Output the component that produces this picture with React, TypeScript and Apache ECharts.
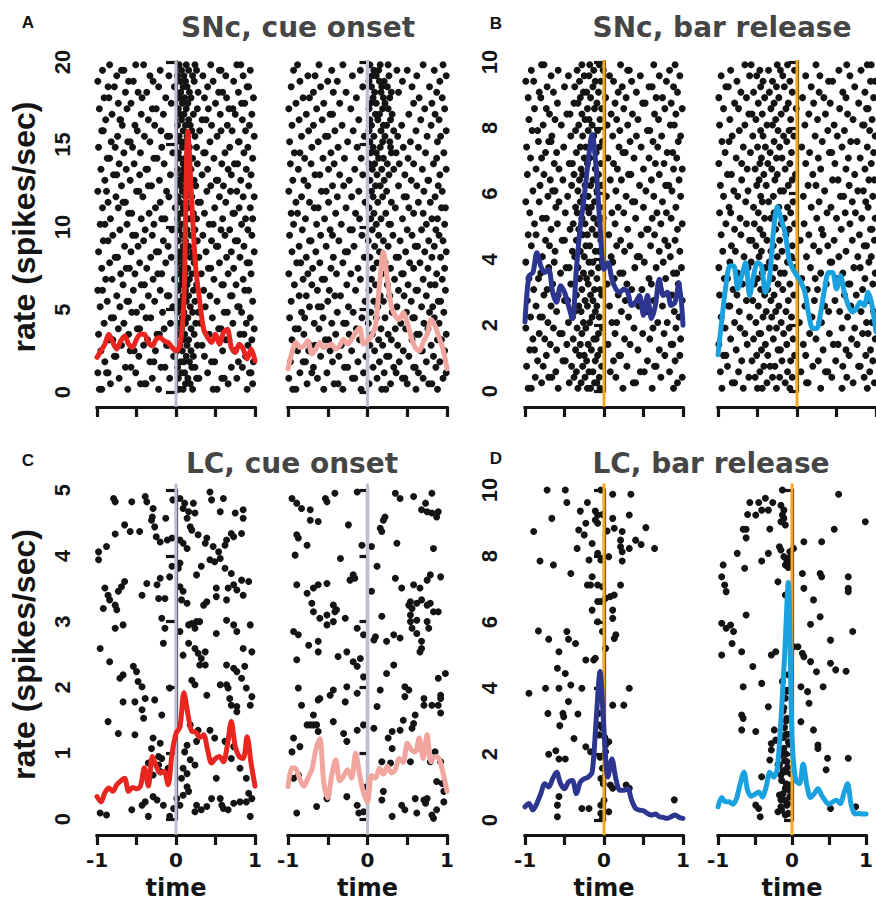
import React, { useEffect, useRef } from "react";
import * as echarts from "echarts";

// ---------- time bins for the rate curves (s) ----------
const timeBins = [
  -1, -0.95, -0.9, -0.85, -0.8, -0.75, -0.7, -0.65, -0.6, -0.55, -0.5, -0.45, -0.4, -0.35, -0.3, -0.25, -0.2, -0.15, -0.1, -0.05,
  0, 0.05, 0.1, 0.15, 0.2, 0.25, 0.3, 0.35, 0.4, 0.45, 0.5, 0.55, 0.6, 0.65, 0.7, 0.75, 0.8, 0.85, 0.9, 0.95, 1,
];
const xTickValues = [-1, -0.5, 0, 0.5, 1];
const xTickLabels = ["-1", "", "0", "", "1"];

// ---------- rate curves (spikes/sec) ----------
const rateSNcCueA = [2.1, 2.5, 2.9, 3.5, 3.0, 2.6, 3.1, 3.4, 2.9, 2.7, 3.2, 3.5, 3.5, 3.0, 2.8, 3.2, 3.3, 3.1, 3.0, 2.7, 2.5, 2.8, 5.5, 15.8, 11.5, 7.5, 5.5, 3.8, 3.3, 3.0, 3.5, 2.9, 3.6, 3.8, 2.7, 2.4, 2.9, 2.6, 2.0, 2.6, 1.9];
const rateSNcCueB = [1.4, 2.4, 3.0, 2.7, 2.8, 3.1, 2.3, 2.6, 3.0, 2.7, 2.8, 2.9, 2.6, 2.8, 3.2, 2.9, 3.2, 3.6, 3.9, 2.9, 3.1, 3.4, 4.0, 6.5, 8.5, 6.8, 5.2, 4.6, 4.4, 4.8, 4.2, 3.3, 2.7, 2.5, 3.0, 3.5, 4.4, 4.0, 3.3, 2.6, 1.4];
const rateSNcBarA = [2.1, 3.5, 3.6, 4.2, 3.8, 3.6, 3.7, 3.0, 2.7, 3.2, 3.0, 2.6, 2.2, 3.7, 5.0, 5.9, 7.0, 7.8, 6.8, 5.0, 3.7, 3.9, 3.4, 3.1, 3.0, 3.1, 3.0, 2.6, 2.7, 2.9, 2.3, 2.9, 2.2, 2.6, 3.4, 2.9, 3.0, 2.6, 2.7, 3.3, 2.0];
const rateSNcBarB = [1.1, 2.2, 3.2, 3.8, 3.8, 3.1, 3.5, 3.9, 2.9, 3.5, 3.9, 3.8, 3.0, 3.4, 4.8, 5.6, 5.2, 4.8, 4.0, 3.7, 3.5, 3.3, 3.0, 2.3, 1.9, 1.9, 2.4, 3.1, 3.6, 3.6, 3.1, 3.5, 3.0, 2.6, 2.4, 2.5, 2.7, 2.6, 3.0, 2.6, 1.8];
const rateLCCueA = [0.34, 0.26, 0.4, 0.47, 0.42, 0.52, 0.58, 0.62, 0.42, 0.48, 0.46, 0.5, 0.78, 0.5, 0.95, 0.8, 0.7, 0.72, 0.52, 1.0, 1.3, 1.4, 1.92, 1.6, 1.33, 1.32, 1.24, 1.28, 1.05, 0.85, 0.92, 0.95, 0.87, 1.12, 1.48, 1.1, 0.95, 0.92, 1.25, 0.85, 0.5];
const rateLCCueB = [0.49, 0.78, 0.76, 0.6, 0.5, 0.62, 0.75, 1.05, 1.22, 0.55, 0.32, 0.67, 0.9, 0.58, 0.65, 0.75, 0.62, 1.0, 0.68, 0.4, 0.26, 0.66, 0.62, 0.77, 0.68, 0.8, 0.7, 0.75, 0.92, 0.86, 1.15, 1.05, 1.02, 1.23, 0.92, 1.28, 0.87, 0.95, 0.92, 0.7, 0.42];
const rateLCBarA = [0.4, 0.5, 0.3, 0.5, 0.8, 1.1, 1.0, 1.25, 1.45, 1.1, 0.95, 1.15, 1.2, 0.8, 1.15, 1.25, 1.3, 1.45, 3.0, 4.5, 2.7, 1.3, 1.85, 1.25, 0.9, 0.9, 0.95, 0.6, 0.35, 0.3, 0.28, 0.2, 0.15, 0.18, 0.1, 0.08, 0.05, 0.1, 0.15, 0.08, 0.05];
const rateLCBarB = [0.4, 0.68, 0.55, 0.55, 0.48, 0.65, 1.1, 1.45, 0.9, 0.72, 0.78, 0.85, 0.7, 1.0, 1.45, 1.3, 1.55, 3.0, 5.0, 7.2, 2.5, 1.2, 1.1, 1.7, 1.05, 0.68, 0.8, 0.95, 0.75, 0.58, 0.48, 0.55, 0.6, 0.5, 0.8, 1.1, 0.45, 0.18, 0.2, 0.18, 0.18];

// ---------- rasters: one row per trial (bottom to top), spike times in 1/100 s ----------
const rasterSNcCueA = [
  [-97, -94, -61, -22, 4, 9, 21, 47, 52, 90], [-83, -45, -40, -38, 12, 18, 66, 97], [-72, -30, -8, 3, 15, 26, 29, 58, 61, 77],
  [-99, -88, -86, -51, 7, 11, 40, 93, 95], [-64, -57, -19, -14, 2, 20, 24, 70, 84], [-90, -33, -28, 6, 10, 17, 45, 49, 79, 98],
  [-78, -76, -47, -3, 13, 22, 36, 88], [-95, -58, -53, -26, 1, 8, 19, 59, 74, 75], [-69, -41, -12, -10, 5, 14, 27, 33, 91],
  [-85, -80, -36, 9, 16, 63, 67, 96], [-98, -60, -24, -21, 3, 11, 23, 42, 81, 86], [-73, -49, -46, -15, 7, 19, 54, 57, 99],
  [-91, -66, -7, 4, 12, 25, 31, 72, 89], [-82, -79, -38, -32, 8, 15, 46, 94], [-56, -50, -17, 2, 10, 21, 28, 61, 65, 83],
  [-96, -71, -43, -4, 6, 18, 37, 78, 80], [-87, -62, -60, -27, 5, 13, 24, 52, 97], [-75, -35, -11, -9, 9, 16, 43, 69, 71],
  [-99, -93, -54, -20, 3, 12, 22, 35, 87, 92], [-67, -44, -40, 6, 14, 26, 58, 60, 76], [-89, -81, -29, -2, 8, 17, 48, 85],
  [-70, -52, -23, -18, 4, 11, 20, 32, 66, 95], [-94, -63, -59, -37, 7, 15, 41, 44, 73], [-84, -46, -13, 2, 10, 23, 55, 90, 93],
  [-77, -74, -32, -6, 6, 18, 29, 64, 81], [-98, -57, -25, -22, 5, 13, 21, 38, 70, 99], [-65, -48, -10, 9, 16, 51, 53, 86],
  [-92, -86, -41, -16, 3, 12, 27, 45, 75, 78], [-80, -55, -51, -30, 8, 19, 34, 62, 96], [-71, -39, -5, 4, 14, 24, 57, 68, 91],
  [-96, -90, -62, -28, 7, 11, 42, 47, 83], [-83, -44, -18, -14, 2, 17, 26, 59, 88, 97], [-60, -56, -34, 6, 10, 22, 36, 72, 74],
  [-93, -73, -26, -1, 9, 15, 49, 80, 94], [-86, -67, -64, -20, 5, 13, 28, 31, 63], [-76, -42, -9, 3, 12, 20, 55, 85, 99],
  [-99, -88, -50, -47, -12, 8, 16, 39, 69, 77], [-69, -35, -31, 6, 18, 25, 44, 60, 92], [-90, -58, -21, 4, 11, 23, 51, 53, 82],
  [-79, -75, -46, -7, 7, 14, 33, 70, 95], [-95, -63, -38, -36, 2, 10, 19, 40, 66, 89], [-72, -53, -15, 9, 16, 27, 58, 74, 78],
  [-87, -84, -28, -24, 5, 12, 21, 48, 97], [-66, -45, -4, 3, 15, 35, 37, 62, 86], [-98, -77, -55, -18, 8, 17, 26, 68, 91],
  [-82, -61, -58, -33, 6, 11, 43, 79, 80], [-74, -40, -11, -8, 4, 14, 24, 52, 99], [-94, -92, -49, -19, 9, 20, 30, 57, 71, 88],
  [-68, -52, -27, 2, 12, 18, 45, 65, 93], [-89, -71, -70, -35, 7, 16, 33, 38, 84], [-81, -44, -16, 5, 10, 22, 56, 75, 96],
  [-97, -62, -30, -25, 3, 13, 27, 41, 67, 72], [-73, -57, -6, 8, 15, 50, 83, 87], [-91, -85, -43, -13, 4, 11, 19, 36, 64, 98],
  [-64, -48, -37, 6, 17, 28, 54, 59, 79], [-86, -78, -22, -2, 9, 14, 40, 90, 92], [-99, -60, -54, -29, 5, 12, 23, 47, 73],
  [-75, -33, -9, 2, 10, 21, 34, 63, 85], [-93, -69, -66, -20, 7, 16, 26, 55, 57, 94], [-84, -51, -41, 4, 13, 24, 44, 77, 82],
];
const rasterSNcCueB = [
  [-94, -90, -55, -31, -8, 18, 23, 61, 88], [-76, -42, -37, 2, 29, 50, 77, 81], [-99, -63, -19, -16, 12, 44, 47, 70, 95],
  [-85, -70, -51, -5, 21, 36, 64, 99], [-68, -29, -25, 7, 33, 58, 60, 86], [-97, -81, -78, -44, -12, 15, 40, 74, 91],
  [-59, -36, -2, 24, 27, 52, 83], [-88, -74, -47, -20, 9, 45, 67, 69, 97], [-72, -66, -33, 3, 19, 38, 80],
  [-95, -53, -49, -10, 14, 30, 56, 88, 93], [-80, -40, -23, 6, 26, 62, 65, 99], [-91, -87, -61, -14, 17, 35, 48, 76],
  [-67, -45, -30, -27, 1, 42, 71, 90], [-98, -79, -56, -7, 11, 22, 57, 59, 84], [-83, -38, -18, 4, 31, 49, 78, 96],
  [-73, -62, -58, -24, 13, 37, 68, 82], [-96, -50, -3, 8, 20, 55, 89, 92], [-86, -77, -41, -34, 16, 28, 46, 74],
  [-63, -48, -15, 2, 39, 61, 63, 98], [-92, -70, -26, 10, 25, 51, 79, 85], [-81, -57, -54, -9, 5, 34, 70, 94],
  [-99, -75, -39, -21, 18, 43, 45, 87], [-69, -46, -12, 7, 29, 58, 76, 97], [-89, -84, -60, -31, 12, 22, 53, 66],
  [-77, -43, -4, 3, 36, 39, 81, 92], [-95, -65, -28, -25, 15, 48, 72, 99], [-86, -52, -17, 9, 26, 60, 63, 84],
  [-73, -71, -36, 1, 20, 41, 77, 95], [-98, -59, -44, -7, 14, 32, 56, 90], [-82, -47, -22, -19, 6, 50, 68, 86],
  [-93, -64, -33, 11, 27, 29, 74, 97], [-78, -54, -10, 4, 17, 44, 81, 88], [-96, -88, -40, -15, 8, 23, 58, 70],
  [-67, -62, -27, 2, 35, 52, 93, 98], [-90, -73, -49, -3, 13, 30, 64, 79], [-83, -38, -20, 7, 19, 46, 49, 85],
  [-99, -58, -52, -11, 5, 24, 71, 94], [-75, -44, -30, 10, 16, 39, 62, 89], [-94, -80, -23, 3, 21, 55, 76, 77],
  [-66, -60, -35, -6, 12, 27, 47, 91], [-87, -49, -16, 6, 18, 33, 69, 99], [-97, -71, -42, 2, 9, 25, 40, 58, 83],
  [-79, -56, -29, -8, 14, 20, 51, 87], [-92, -85, -46, 4, 11, 30, 36, 73, 96], [-70, -37, -13, 7, 16, 29, 45, 64],
  [-98, -62, -25, 3, 19, 28, 54, 88], [-83, -53, -50, -4, 8, 22, 38, 75, 92], [-74, -41, -18, 2, 17, 33, 61, 99],
  [-95, -68, -32, 5, 20, 24, 43, 80], [-86, -57, -11, 3, 13, 29, 67, 90], [-77, -47, -44, 10, 15, 31, 52, 85],
  [-99, -64, -21, 2, 19, 26, 72, 97], [-90, -55, -35, 4, 11, 22, 58, 81], [-81, -73, -14, 7, 20, 28, 65, 94],
  [-68, -43, -27, 9, 17, 30, 39, 87], [-96, -59, -6, 5, 18, 25, 56, 78], [-85, -50, -38, 2, 15, 21, 44, 91],
  [-75, -66, -19, 6, 11, 27, 62, 99], [-93, -45, -9, 8, 14, 37, 50, 84], [-88, -61, -31, 3, 16, 26, 70, 95],
];
const rasterSNcBarA = [
  [-96, -92, -58, -33, -21, -17, -5, 24, 61, 88], [-79, -44, -29, -12, -9, 37, 40, 93], [-87, -70, -66, -38, -24, -6, 15, 72, 99],
  [-61, -35, -19, -14, 8, 46, 51, 83], [-98, -77, -41, -27, -3, 29, 64, 66], [-84, -52, -49, -22, -11, 12, 55, 90],
  [-73, -31, -25, -8, 19, 21, 77, 96], [-94, -88, -60, -36, -16, -4, 43, 70], [-68, -47, -30, -20, 5, 33, 85, 87],
  [-90, -75, -39, -13, -10, 26, 58, 97], [-82, -56, -53, -28, -7, 14, 49, 76], [-99, -64, -34, -23, -2, 38, 62, 91],
  [-71, -45, -26, -18, 10, 16, 68, 80], [-93, -81, -78, -40, -15, -6, 31, 95], [-60, -37, -29, -11, 22, 53, 56, 89],
  [-86, -67, -32, -21, -9, 7, 44, 74], [-97, -50, -46, -24, -14, 27, 63, 99], [-76, -58, -35, -17, -3, 18, 83, 86],
  [-89, -72, -28, -12, -5, 35, 48, 71], [-65, -42, -38, -20, 4, 29, 60, 94], [-95, -83, -31, -22, -9, 13, 57, 78],
  [-80, -55, -26, -16, 20, 24, 88, 92], [-70, -48, -44, -33, -7, 39, 66, 98], [-99, -63, -19, -14, -2, 11, 51, 75],
  [-85, -78, -37, -25, 9, 42, 45, 84], [-62, -40, -30, -11, -6, 26, 70, 96], [-92, -69, -23, -18, 16, 33, 59, 81],
  [-74, -53, -50, -35, -4, 21, 77, 90], [-96, -86, -27, -21, -10, 6, 47, 64], [-67, -43, -32, -15, 30, 54, 56, 93],
  [-88, -59, -39, -24, -8, 14, 72, 99], [-78, -73, -28, -13, -1, 40, 61, 85], [-94, -49, -34, -19, 10, 25, 67, 79],
  [-61, -36, -22, -16, -5, 18, 50, 91], [-99, -82, -57, -30, -12, 36, 39, 74], [-71, -46, -26, -20, 3, 28, 63, 97],
  [-90, -65, -62, -33, -9, 15, 53, 86], [-81, -41, -24, -17, -3, 45, 78, 82], [-68, -52, -31, -14, 8, 22, 60, 95],
  [-97, -76, -38, -27, -7, 31, 34, 70], [-86, -57, -29, -11, 17, 50, 88, 99], [-63, -44, -40, -21, -4, 12, 65, 76],
  [-93, -79, -25, -18, 5, 38, 57, 92], [-74, -60, -35, -10, 24, 27, 80, 87], [-98, -51, -30, -23, -6, 19, 47, 68],
  [-83, -70, -67, -16, -2, 33, 62, 94], [-66, -42, -27, -13, 11, 41, 73, 97], [-91, -84, -36, -20, -8, 20, 55, 58],
  [-77, -54, -32, -15, 4, 30, 84, 89], [-95, -62, -24, -19, -5, 16, 43, 69], [-69, -47, -43, -28, 9, 36, 64, 91],
  [-88, -73, -21, -12, -3, 25, 77, 99], [-59, -38, -33, -9, 14, 49, 52, 85], [-96, -80, -30, -17, 2, 28, 66, 74],
  [-82, -64, -26, -22, -7, 18, 41, 93], [-72, -50, -37, -14, 23, 57, 61, 88], [-99, -89, -31, -11, -4, 12, 35, 79],
  [-67, -45, -25, -19, 7, 46, 70, 96], [-92, -58, -34, -13, -1, 30, 32, 83], [-79, -76, -28, -18, -6, 21, 63, 90],
];
const rasterSNcBarB = [
  [-95, -68, -50, -44, -26, -9, 30, 57, 89], [-82, -79, -38, -15, 12, 14, 71, 98], [-61, -53, -31, -22, -6, 44, 63, 85],
  [-97, -74, -47, -12, 5, 36, 39, 92], [-88, -42, -34, -28, 20, 58, 78, 80], [-70, -57, -19, -8, 27, 49, 96],
  [-93, -90, -51, -37, -3, 11, 66, 87], [-77, -45, -24, -21, 33, 62, 93], [-99, -63, -40, -13, 8, 46, 52, 76],
  [-84, -55, -30, -5, 24, 69, 99], [-66, -48, -46, -17, 16, 41, 83, 90], [-91, -72, -35, -26, -10, 57, 73],
  [-79, -52, -20, 3, 29, 31, 88, 95], [-96, -60, -43, -32, -7, 19, 64], [-73, -39, -27, -14, 40, 54, 81, 97],
  [-87, -85, -49, -23, 10, 35, 68], [-64, -56, -33, -11, 22, 48, 90, 92], [-98, -76, -41, -29, -4, 60, 75],
  [-81, -46, -37, -18, 13, 26, 83], [-69, -54, -24, -9, 37, 65, 67, 96], [-92, -88, -50, -31, 6, 23, 49, 86],
  [-75, -44, -21, -16, 30, 58, 99], [-99, -62, -40, -28, -2, 17, 72, 80], [-85, -58, -35, -12, 42, 44, 91],
  [-67, -48, -25, -7, 12, 53, 77, 94], [-94, -78, -45, -33, -19, 28, 62], [-83, -52, -30, -6, 21, 39, 85, 88],
  [-60, -57, -38, -22, 4, 47, 70, 98], [-96, -71, -43, -14, 15, 33, 79], [-79, -47, -27, -10, 31, 56, 93, 95],
  [-90, -64, -54, -20, -3, 9, 67], [-72, -41, -33, -16, 25, 50, 82, 99], [-98, -84, -49, -29, -8, 38, 61, 74],
  [-86, -55, -23, -12, 18, 43, 90], [-65, -44, -36, -5, 28, 70, 87], [-93, -75, -46, -30, 8, 55, 59, 96],
  [-80, -62, -21, -17, 35, 77, 84], [-97, -51, -39, -11, 14, 24, 66], [-70, -48, -28, -6, 45, 52, 91, 98],
  [-88, -83, -42, -25, -2, 20, 73], [-63, -53, -32, -15, 30, 62, 86], [-99, -70, -47, -37, -9, 11, 48, 94],
  [-77, -45, -26, -19, 27, 65, 80], [-91, -59, -34, -7, 16, 41, 44, 97], [-68, -50, -40, -22, 6, 57, 89],
  [-95, -86, -29, -13, 32, 68, 76], [-82, -56, -43, -17, -4, 23, 51, 99], [-73, -46, -24, -10, 39, 60, 92],
  [-98, -66, -38, -31, 10, 47, 83, 85], [-85, -52, -27, -8, 26, 71, 95], [-61, -57, -44, -20, 15, 36, 64],
  [-93, -74, -33, -14, -1, 54, 88, 90], [-79, -49, -29, -11, 21, 42, 78], [-99, -64, -41, -23, 7, 34, 62, 97],
  [-71, -55, -35, -6, 28, 58, 86], [-90, -87, -46, -26, -16, 18, 73], [-76, -43, -31, -9, 40, 45, 93, 99],
  [-96, -60, -51, -18, 11, 29, 67], [-84, -47, -36, -21, -3, 53, 81], [-66, -58, -25, -12, 24, 63, 89, 94],
];

// ---------- sparse rasters: [spike time in 1/100 s, row position in 1/100 rate units] ----------
const rasterLCCueA = [
  [-79, 487], [-77, 482], [-56, 482], [-39, 490], [-37, 482], [-29, 472], [-30, 459], [-31, 454], [-65, 447], [-77, 433], [-58, 437], [-46, 437],
  [-27, 444], [-25, 429], [-20, 421], [-11, 424], [-13, 457], [-4, 485], [-5, 427], [-98, 406], [-88, 414], [-98, 394], [5, 487], [11, 480],
  [9, 472], [16, 467], [14, 457], [22, 480], [24, 465], [18, 444], [20, 439], [28, 432], [43, 497], [45, 485], [60, 487], [56, 467], [75, 465],
  [85, 470], [85, 457], [39, 427], [37, 419], [47, 414], [54, 406], [62, 416], [64, 424], [70, 434], [73, 429], [83, 434], [5, 424], [9, 419],
  [14, 411], [5, 389], [3, 381], [-5, 384], [-8, 368], [-20, 366], [-24, 356], [-37, 358], [-65, 361], [-69, 353], [-73, 346], [-86, 340],
  [-84, 333], [-92, 320], [-77, 325], [-75, 318], [-90, 351], [-43, 340], [-22, 335], [-14, 335], [5, 353], [9, 346], [7, 333], [14, 328],
  [26, 371], [32, 384], [43, 394], [49, 391], [56, 396], [62, 381], [70, 373], [73, 356], [66, 351], [77, 348], [83, 363], [92, 361], [85, 340],
  [64, 333], [39, 330], [35, 325], [51, 351], [51, 338], [-18, 305], [-14, 290], [-16, 267], [-67, 295], [-77, 290], [-96, 259], [-84, 239],
  [-71, 214], [-67, 219], [-54, 232], [-50, 224], [-48, 209], [-43, 201], [-8, 199], [5, 285], [16, 267], [20, 297], [26, 300], [24, 290],
  [30, 300], [24, 259], [28, 252], [32, 244], [37, 234], [30, 234], [37, 254], [9, 249], [16, 295], [51, 282], [64, 302], [73, 295], [77, 285],
  [94, 295], [85, 259], [96, 254], [64, 234], [73, 229], [77, 224], [83, 214], [87, 232], [56, 204], [64, 204], [66, 199], [68, 183], [70, 173],
  [77, 171], [77, 163], [89, 199], [96, 186], [94, 173], [39, 188], [24, 204], [20, 211], [-67, 178], [-52, 178], [-39, 183], [-43, 166],
  [-18, 158], [-27, 181], [-41, 153], [-86, 148], [-73, 130], [-52, 128], [-29, 123], [-31, 107], [-20, 115], [-18, 92], [-31, 87], [-35, 85],
  [-22, 82], [-20, 72], [-29, 67], [-10, 77], [-96, 9], [-88, 6], [-56, 14], [-43, 21], [-39, 26], [-35, 4], [-29, 34], [-24, 29], [-16, 21],
  [1, 31], [5, 21], [9, 36], [7, 62], [14, 49], [16, 42], [14, 69], [9, 77], [18, 90], [24, 82], [11, 102], [14, 112], [18, 143], [28, 135],
  [26, 118], [43, 135], [49, 123], [62, 118], [73, 110], [70, 92], [51, 62], [56, 31], [58, 21], [60, 16], [66, 14], [73, 24], [81, 26], [89, 26],
  [92, 39], [94, 4], [96, 31], [89, 62], [81, 77], [26, 21], [32, 14], [39, 19], [45, 31], [24, 11], [-3, 16], [-8, 4], [-22, 95],
];
const rasterLCCueB = [
  [-95, 487], [-89, 480], [-83, 472], [-72, 470], [-72, 454], [-62, 452], [-53, 487], [-51, 482], [-41, 495], [-24, 447], [-13, 497], [-7, 416],
  [-89, 432], [-87, 427], [-76, 416], [-91, 401], [-34, 396], [-18, 371], [-16, 366], [-22, 363], [-89, 356], [-76, 343], [-68, 351], [-62, 356],
  [-51, 358], [-43, 325], [-39, 318], [-41, 315], [-70, 328], [-68, 315], [-60, 305], [-51, 310], [-43, 300], [-28, 305], [-13, 290], [-5, 280],
  [-93, 285], [-87, 280], [-74, 264], [-62, 270], [-62, 254], [-51, 295], [-37, 247], [-26, 254], [-18, 239], [-9, 244], [-13, 232], [-5, 216],
  [-89, 242], [-87, 199], [-83, 173], [-68, 158], [-76, 143], [-72, 143], [-68, 143], [-64, 143], [-62, 133], [-62, 181], [-60, 183], [-47, 188],
  [-43, 196], [-26, 201], [-13, 191], [-28, 178], [-43, 148], [-30, 130], [-26, 118], [-13, 135], [-5, 143], [-93, 123], [-85, 110], [-95, 102],
  [-87, 67], [-93, 62], [-89, 9], [-64, 19], [-51, 31], [-26, 34], [-13, 21], [-11, 9], [-5, 11], [-1, 49], [5, 414], [12, 384], [16, 442],
  [20, 454], [18, 437], [22, 459], [35, 495], [41, 487], [37, 419], [58, 490], [73, 480], [81, 495], [83, 411], [68, 470], [75, 467], [81, 465],
  [89, 467], [87, 459], [92, 368], [79, 371], [75, 363], [66, 351], [58, 356], [54, 330], [52, 325], [56, 320], [62, 328], [68, 333], [75, 325],
  [79, 328], [83, 315], [89, 315], [54, 310], [54, 300], [62, 302], [75, 300], [77, 290], [56, 290], [62, 282], [68, 270], [41, 275], [33, 280],
  [24, 270], [18, 308], [35, 366], [43, 351], [5, 346], [10, 277], [8, 272], [12, 171], [16, 196], [24, 221], [33, 234], [47, 201], [52, 196],
  [47, 186], [66, 254], [68, 259], [89, 214], [98, 221], [92, 188], [92, 183], [89, 173], [92, 161], [81, 173], [71, 173], [60, 158], [71, 183],
  [45, 150], [41, 135], [58, 145], [56, 138], [8, 138], [31, 133], [26, 123], [31, 107], [18, 87], [29, 85], [54, 87], [68, 107], [79, 87],
  [85, 102], [92, 87], [87, 57], [94, 54], [96, 42], [96, 26], [75, 31], [71, 29], [73, 24], [60, 31], [43, 21], [47, 14], [31, 4], [20, 42],
  [18, 29], [81, 6], [83, 1], [87, 14], [62, 9],
];
const rasterLCBarA = [
  [-72, 1000], [-49, 1000], [-4, 1000], [11, 987], [34, 987], [-47, 962], [-21, 962], [-30, 936], [-11, 936], [-8, 924], [-2, 926], [-66, 914],
  [-89, 874], [-23, 899], [-11, 909], [-8, 899], [11, 914], [32, 924], [23, 874], [21, 848], [40, 848], [47, 835], [53, 886], [64, 823],
  [-32, 879], [-25, 864], [-34, 823], [4, 876], [13, 884], [21, 828], [-15, 838], [32, 823], [23, 813], [23, 785], [6, 798], [-8, 808],
  [-4, 788], [-19, 788], [-81, 785], [-64, 773], [-42, 747], [-15, 737], [-8, 712], [-17, 712], [-21, 712], [-2, 707], [21, 712], [13, 682],
  [2, 672], [-4, 662], [-8, 662], [8, 677], [-15, 636], [-8, 601], [11, 636], [11, 611], [-2, 571], [15, 561], [13, 550], [2, 520], [-83, 573],
  [-70, 548], [-45, 548], [-47, 571], [-36, 535], [-57, 510], [-23, 485], [-13, 485], [-11, 490], [32, 399], [-74, 399], [-57, 399], [-42, 409],
  [-28, 399], [-95, 384], [-59, 460], [-49, 444], [-45, 359], [-71, 323], [-52, 323], [-51, 313], [-33, 321], [-56, 286], [-38, 247], [-7, 323],
  [11, 348], [25, 348], [-6, 288], [-6, 258], [-23, 222], [-17, 207], [2, 227], [2, 207], [6, 237], [-70, 199], [-61, 210], [-57, 185],
  [-49, 185], [-2, 157], [-4, 126], [2, 136], [6, 167], [8, 106], [11, 96], [28, 106], [32, 96], [-57, 71], [-59, 45], [-28, 35], [-19, 35],
  [-59, 10], [-4, 20], [-2, 5], [-4, 45], [6, 25], [89, 61], [-3, 280], [1, 250], [-5, 190], [0, 60], [-1, 110], [3, 150],
];
const rasterLCBarB = [
  [-13, 1000], [63, 987], [99, 904], [-57, 962], [-45, 962], [-36, 975], [-26, 962], [-41, 939], [-32, 939], [-60, 926], [-49, 924], [-15, 954],
  [-11, 939], [-13, 924], [-11, 914], [-15, 904], [-9, 894], [-66, 881], [-62, 881], [-62, 855], [-30, 882], [-74, 808], [-41, 785], [-64, 763],
  [-93, 773], [-95, 737], [-91, 712], [-89, 692], [-32, 808], [-17, 828], [-15, 818], [-11, 798], [-7, 788], [-9, 773], [-5, 778], [-19, 722],
  [-9, 682], [14, 747], [38, 747], [40, 737], [76, 737], [76, 702], [76, 692], [16, 702], [29, 667], [38, 616], [25, 593], [57, 881], [40, 843],
  [16, 843], [2, 823], [-3, 813], [-3, 788], [-5, 765], [-62, 621], [-95, 596], [-89, 581], [-83, 591], [-79, 571], [-81, 535], [-95, 500],
  [-68, 510], [-53, 465], [-28, 500], [-22, 510], [2, 525], [8, 525], [14, 505], [16, 495], [52, 545], [82, 571], [52, 475], [59, 455], [73, 451],
  [25, 480], [33, 449], [42, 404], [12, 404], [21, 389], [23, 354], [-41, 414], [-66, 404], [-32, 343], [-68, 318], [-66, 308], [-68, 273],
  [-49, 268], [12, 298], [29, 273], [35, 227], [35, 217], [48, 187], [76, 187], [46, 152], [-24, 273], [-28, 232], [-28, 212], [-22, 242],
  [-17, 167], [-41, 131], [-30, 182], [-15, 197], [-15, 136], [-17, 76], [-15, 61], [-15, 40], [-7, 45], [-5, 20], [-19, 25], [-49, 45],
  [-45, 35], [-43, 10], [-19, 167], [-9, 369], [-7, 308], [-9, 258], [-5, 237], [-11, 217], [-7, 177], [-9, 146], [-3, 106], [-9, 96], [86, 40],
  [52, 35], [-12, 330], [-8, 300], [-10, 280], [-6, 260], [-12, 250], [-4, 230], [-14, 210], [-8, 200], [-10, 180], [-6, 160], [-12, 150],
  [-2, 140], [-14, 120], [-8, 110], [-4, 90], [-12, 80], [-10, 60], [-6, 50], [-14, 30], [-9, 15], [-3, 70], [-11, 340], [-7, 390], [-13, 420],
  [-5, 440],
];

// reference-line extents (rate units) for the event markers
const cueLineSNc = [-0.9, 20.1];
const barLineSNc = [-0.48, 10.05];
const cueLineLC = [-0.24, 5.1];
const barLineLC = [-0.46, 10.2];

const titles = ["SNc, cue onset", "SNc, bar release", "LC, cue onset", "LC, bar release"];
const panelLetters = ["A", "B", "C", "D"];

function rowsToPoints(rows: number[][], ymax: number) {
  const n = rows.length;
  const pts: number[][] = [];
  rows.forEach((row, r) => row.forEach((t) => pts.push([t / 100, ((r + 0.5) * ymax) / n])));
  return pts;
}
function pairsToPoints(pairs: number[][]) {
  return pairs.map(([t, y]) => [t / 100, y / 100]);
}

const RED = "#e8261f";
const PINK = "#f1a59f";
const NAVY = "#2c3590";
const SKY = "#1aa2e0";
const CUE = "#bdbdd3";
const BAR = "#f6a81f";
const INK = "#141414";

const panels = [
  { grid: { left: 97, top: 62, width: 158, height: 330 }, ymax: 20, step: 5, dots: rowsToPoints(rasterSNcCueA, 20), rate: rateSNcCueA, color: RED, ref: cueLineSNc, refColor: CUE, yOff: 5, xOff: 15, first: true, bottom: false, tick: 10 },
  { grid: { left: 288, top: 62, width: 159, height: 330 }, ymax: 20, step: 5, dots: rowsToPoints(rasterSNcCueB, 20), rate: rateSNcCueB, color: PINK, ref: cueLineSNc, refColor: CUE, yOff: 8, xOff: 15, first: false, bottom: false, tick: 8 },
  { grid: { left: 525, top: 62, width: 158, height: 329 }, ymax: 10, step: 2, dots: rowsToPoints(rasterSNcBarA, 10), rate: rateSNcBarA, color: NAVY, ref: barLineSNc, refColor: BAR, yOff: 6, xOff: 16, first: true, bottom: false, tick: 10 },
  { grid: { left: 718, top: 62, width: 158, height: 329 }, ymax: 10, step: 2, dots: rowsToPoints(rasterSNcBarB, 10), rate: rateSNcBarB, color: SKY, ref: barLineSNc, refColor: BAR, yOff: 8, xOff: 16, first: false, bottom: false, tick: 8 },
  { grid: { left: 97, top: 490, width: 158, height: 329 }, ymax: 5, step: 1, dots: pairsToPoints(rasterLCCueA), rate: rateLCCueA, color: RED, ref: cueLineLC, refColor: CUE, yOff: 5, xOff: 16, first: true, bottom: true, tick: 10 },
  { grid: { left: 288, top: 490, width: 159, height: 329 }, ymax: 5, step: 1, dots: pairsToPoints(rasterLCCueB), rate: rateLCCueB, color: PINK, ref: cueLineLC, refColor: CUE, yOff: 8, xOff: 16, first: false, bottom: true, tick: 8 },
  { grid: { left: 525, top: 490, width: 158, height: 330 }, ymax: 10, step: 2, dots: pairsToPoints(rasterLCBarA), rate: rateLCBarA, color: NAVY, ref: barLineLC, refColor: BAR, yOff: 6, xOff: 15, first: true, bottom: true, tick: 10 },
  { grid: { left: 718, top: 490, width: 158, height: 330 }, ymax: 10, step: 2, dots: pairsToPoints(rasterLCBarB), rate: rateLCBarB, color: SKY, ref: barLineLC, refColor: BAR, yOff: 7, xOff: 15, first: false, bottom: true, tick: 8 },
];

function buildOption() {
  const grid = panels.map((p) => ({ ...p.grid, containLabel: false }));
  const xAxis = panels.map((p, i) => ({
    type: "value",
    gridIndex: i,
    min: -1,
    max: 1,
    interval: 0.5,
    offset: p.xOff,
    axisLine: { show: true, onZero: false, lineStyle: { color: INK, width: 3.2, cap: "square" } },
    axisTick: { show: true, length: 10, lineStyle: { color: INK, width: 3.2 } },
    splitLine: { show: false },
    axisLabel: {
      show: p.bottom,
      showMinLabel: true,
      showMaxLabel: true,
      margin: 15,
      color: INK,
      fontSize: 20,
      fontWeight: "bold",
      fontFamily: "DejaVu Sans",
      formatter: (v: number) => {
        const k = xTickValues.findIndex((t) => Math.abs(t - v) < 1e-9);
        return k >= 0 ? xTickLabels[k] : "";
      },
    },
    name: p.bottom ? "time" : "",
    nameLocation: "middle",
    nameGap: 41,
    nameTextStyle: { color: INK, fontSize: 24, fontWeight: "bold", fontFamily: "DejaVu Sans" },
  }));
  const yAxis = panels.map((p, i) => ({
    type: "value",
    gridIndex: i,
    min: 0,
    max: p.ymax,
    interval: p.step,
    offset: p.yOff,
    axisLine: { show: true, lineStyle: { color: INK, width: 3.2, cap: "square" } },
    axisTick: { show: true, length: p.tick, lineStyle: { color: INK, width: 3.2 } },
    splitLine: { show: false },
    axisLabel: {
      show: p.first,
      rotate: 90,
      margin: 19,
      color: INK,
      fontSize: 22,
      fontWeight: "bold",
      fontFamily: "Liberation Sans",
    },
    name: i === 0 || i === 4 ? "rate (spikes/sec)" : "",
    nameLocation: "middle",
    nameRotate: 90,
    nameGap: 52,
    nameTextStyle: { color: INK, fontSize: 32, fontWeight: "bold", fontFamily: "Liberation Sans" },
  }));
  const series: any[] = [];
  panels.forEach((p, i) => {
    series.push({
      type: "scatter",
      xAxisIndex: i,
      yAxisIndex: i,
      data: p.dots,
      symbolSize: 7,
      clip: false,
      silent: true,
      itemStyle: { color: INK, opacity: 1 },
    });
    series.push({
      type: "line",
      xAxisIndex: i,
      yAxisIndex: i,
      data: [[0, p.ref[0]], [0, p.ref[1]]],
      symbol: "none",
      clip: false,
      silent: true,
      lineStyle: { color: p.refColor, width: 3 },
    });
    series.push({
      type: "line",
      xAxisIndex: i,
      yAxisIndex: i,
      data: timeBins.map((t, k) => [t, p.rate[k]]),
      symbol: "none",
      smooth: 0.3,
      silent: true,
      lineStyle: { color: p.color, width: 5, cap: "round", join: "round" },
    });
  });

  const titlePos = [
    [298, 27],
    [722, 27],
    [292, 463],
    [711, 463],
  ];
  const letterPos = [
    [28, 22],
    [496, 23],
    [28, 460],
    [496, 458],
  ];
  const graphic: any[] = [];
  titles.forEach((t, k) => {
    graphic.push({
      type: "text",
      x: titlePos[k][0],
      y: titlePos[k][1],
      silent: true,
      style: { text: t, fill: "#454545", fontSize: 28, fontWeight: "bold", fontFamily: "DejaVu Sans", align: "center", verticalAlign: "middle" },
    });
  });
  panelLetters.forEach((t, k) => {
    graphic.push({
      type: "text",
      x: letterPos[k][0],
      y: letterPos[k][1],
      silent: true,
      style: { text: t, fill: INK, fontSize: 17, fontWeight: "bold", fontFamily: "Liberation Sans", align: "center", verticalAlign: "middle" },
    });
  });

  return {
    animation: false,
    backgroundColor: "#ffffff",
    grid,
    xAxis,
    yAxis,
    series,
    graphic,
  };
}

export default function App() {
  const ref = useRef<HTMLDivElement>(null);
  useEffect(() => {
    if (!ref.current) return;
    const chart = echarts.init(ref.current, undefined, { renderer: "svg" });
    chart.setOption(buildOption() as any);
    return () => chart.dispose();
  }, []);
  return <div ref={ref} style={{ position: "absolute", left: 0, top: 0, width: 876, height: 902, background: "#fff" }} />;
}
